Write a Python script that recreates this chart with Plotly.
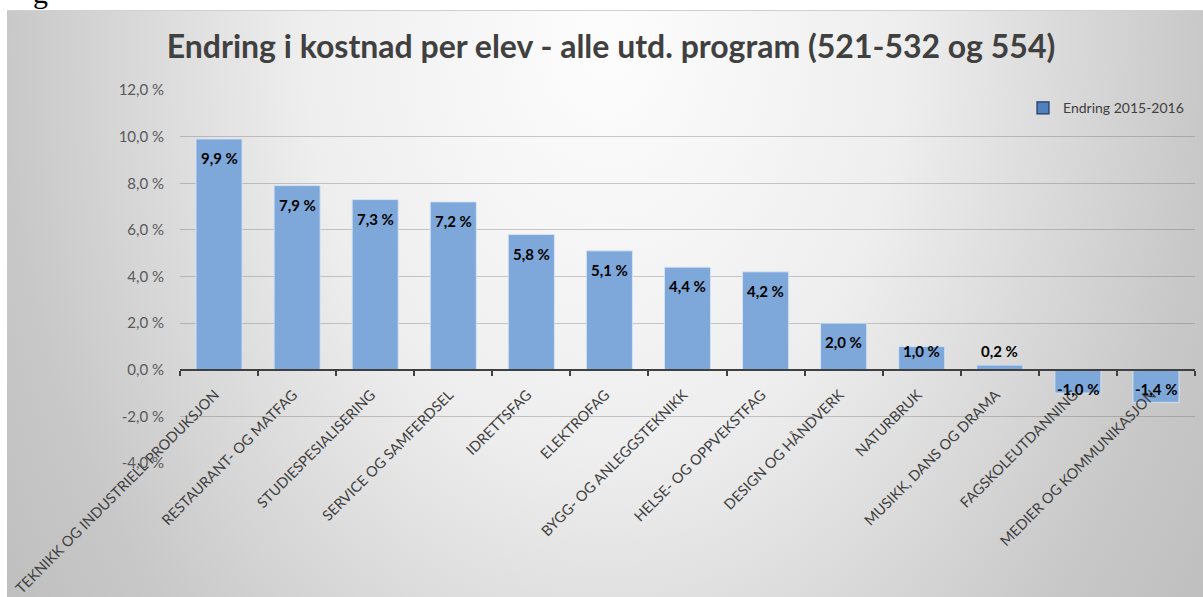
import base64
import plotly.graph_objects as go

categories = [
    "TEKNIKK OG INDUSTRIELL PRODUKSJON",
    "RESTAURANT- OG MATFAG",
    "STUDIESPESIALISERING",
    "SERVICE OG SAMFERDSEL",
    "IDRETTSFAG",
    "ELEKTROFAG",
    "BYGG- OG ANLEGGSTEKNIKK",
    "HELSE- OG OPPVEKSTFAG",
    "DESIGN OG HÅNDVERK",
    "NATURBRUK",
    "MUSIKK, DANS OG DRAMA",
    "FAGSKOLEUTDANNING",
    "MEDIER OG KOMMUNIKASJON",
]
values = [9.9, 7.9, 7.3, 7.2, 5.8, 5.1, 4.4, 4.2, 2.0, 1.0, 0.2, -1.0, -1.4]
series_name = "Endring 2015-2016"
title_text = "Endring i kostnad per elev - alle utd. program (521-532 og 554)"
y_tickvals = [-4, -2, 0, 2, 4, 6, 8, 10, 12]
y_ticktext = ["-4,0 %", "-2,0 %", "0,0 %", "2,0 %", "4,0 %", "6,0 %", "8,0 %", "10,0 %", "12,0 %"]

labels = [("%.1f %%" % v).replace(".", ",") for v in values]

W, H = 1203, 597
ML, MR, MT, MB = 180, 8, 90, 134
PW, PH = W - ML - MR, H - MT - MB
Y0, Y1 = -4, 12

# data-label placement like Excel "inside end": 19 px inward from the bar end,
# but never closer than 19 px to the axis
off = 19 * (Y1 - Y0) / PH
label_y = [(1 if v >= 0 else -1) * max(abs(v) - off, off) for v in values]

# radial gradient background (Excel-like chart area)
cw, ch = 1196, 587
svg = f'''<svg xmlns="http://www.w3.org/2000/svg" width="{cw}" height="{ch}" viewBox="0 0 {cw} {ch}" preserveAspectRatio="none">
<defs><radialGradient id="g" gradientUnits="userSpaceOnUse" cx="0" cy="0" r="1" gradientTransform="translate(598,30) scale(750,1035)">
<stop offset="0" stop-color="#fdfdfd"/><stop offset="0.4" stop-color="#eeeeee"/>
<stop offset="0.8" stop-color="#c8c8c8"/><stop offset="1" stop-color="#bdbdbd"/></radialGradient></defs>
<rect x="0" y="0" width="{cw}" height="{ch}" fill="url(#g)"/>
<line x1="0" y1="0.5" x2="{cw}" y2="0.5" stroke="#d0d0d0" stroke-width="1"/>
</svg>'''
src = "data:image/svg+xml;base64," + base64.b64encode(svg.encode()).decode()

fig = go.Figure()
fig.add_trace(go.Bar(
    x=categories, y=values,
    marker=dict(color="#7EA8DA", line=dict(color="rgba(215,228,245,0.9)", width=1)),
    showlegend=False, hoverinfo="skip",
))
fig.add_trace(go.Bar(
    x=[None], y=[None], name=series_name,
    marker=dict(color="#4F81BD", line=dict(color="#1F3864", width=1.2)),
    showlegend=True,
))

annotations = [
    dict(x=c, y=ly, text=t, xref="x", yref="y", showarrow=False,
         xanchor="center", yanchor="middle",
         font=dict(family="Lato", size=15, color="black", weight="bold"))
    for c, ly, t in zip(categories, label_y, labels)
]
annotations.append(dict(text="g", xref="paper", yref="paper", x=(40 - ML) / PW,
                        y=1 + (MT - 11) / PH, xanchor="center", yanchor="bottom",
                        showarrow=False,
                        font=dict(family="Liberation Serif", size=30, color="black")))

fig.update_layout(
    width=W, height=H, autosize=False,
    margin=dict(l=ML, r=MR, t=MT, b=MB),
    paper_bgcolor="white", plot_bgcolor="rgba(0,0,0,0)",
    barmode="overlay", bargap=0.41,
    font=dict(family="Lato", color="#404040"),
    title=dict(text=title_text, x=611 / W, xref="container", xanchor="center",
               y=1 - 47 / H, yanchor="middle",
               font=dict(family="Lato", size=32, color="#404040", weight="bold")),
    legend=dict(x=(1023 - ML) / PW, xanchor="left", y=(462.7 - 108) / PH, yanchor="middle",
                bgcolor="rgba(0,0,0,0)", font=dict(family="Lato", size=14, color="#404040")),
    images=[dict(source=src, xref="paper", yref="paper",
                 x=(7 - ML) / PW, y=1 + (MT - 10) / PH, sizex=cw / PW, sizey=ch / PH,
                 xanchor="left", yanchor="top", sizing="stretch", layer="below")],
    annotations=annotations,
    hovermode=False,
)
fig.update_xaxes(
    type="category", anchor="free", position=(0 - Y0) / (Y1 - Y0),
    showline=True, linecolor="#404040", linewidth=2,
    ticks="outside", tickson="boundaries", ticklen=5, tickwidth=2, tickcolor="#404040",
    tickangle=-45, tickfont=dict(family="Lato", size=14.5, color="#404040"),
    ticklabelstandoff=10, ticklabelshift=-4,
    showgrid=False, automargin=False,
)
fig.update_yaxes(
    range=[Y0, Y1], tickvals=y_tickvals, ticktext=y_ticktext,
    showgrid=True, gridcolor="rgba(90,90,90,0.3)", gridwidth=1,
    zeroline=False, showline=False, ticks="", ticklabelstandoff=15,
    tickfont=dict(family="Lato", size=15, color="#595959"), automargin=False,
)

fig.write_html("out.html", config={"displayModeBar": False},
               post_script="document.body.style.margin='0px';")
